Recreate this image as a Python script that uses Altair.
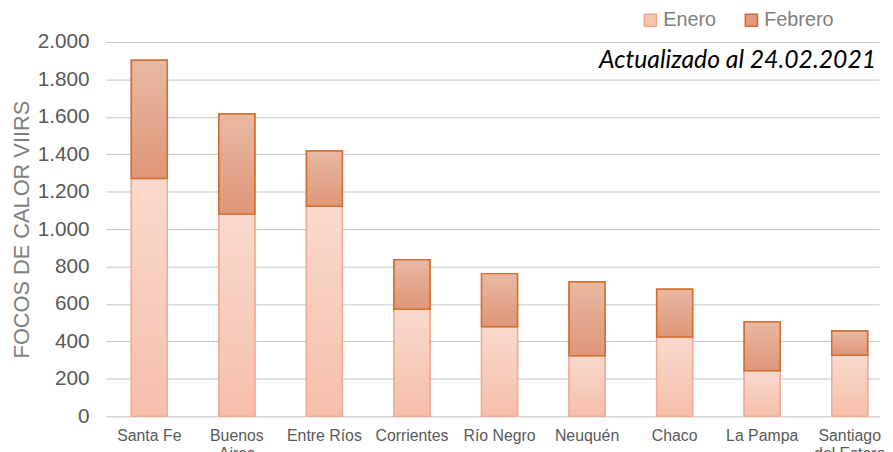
import altair as alt
import pandas as pd

regiones = ["Santa Fe", "Buenos Aires", "Entre Ríos", "Corrientes", "Río Negro",
            "Neuquén", "Chaco", "La Pampa", "Santiago del Estero"]
enero = [1270, 1080, 1122, 571, 478, 323, 423, 243, 326]
febrero = [632, 535, 296, 265, 284, 394, 256, 262, 129]
series = ["Enero", "Febrero"]
y_ticks = [0, 200, 400, 600, 800, 1000, 1200, 1400, 1600, 1800, 2000]
nota = "Actualizado al 24.02.2021"

rows = []
for r, e, f in zip(regiones, enero, febrero):
    rows.append({"region": r, "serie": "Enero", "orden": 0, "valor": e})
    rows.append({"region": r, "serie": "Febrero", "orden": 1, "valor": f})
df = pd.DataFrame(rows)

grad_ene = {"gradient": "linear", "x1": 0, "y1": 0, "x2": 0, "y2": 1,
            "stops": [{"offset": 0, "color": "#f9dacd"}, {"offset": 1, "color": "#f5bfab"}]}
grad_feb = {"gradient": "linear", "x1": 0, "y1": 0, "x2": 0, "y2": 1,
            "stops": [{"offset": 0, "color": "#e8b9a4"}, {"offset": 1, "color": "#df9678"}]}

W, H = 781, 378

x_enc = alt.X("region:N", sort=regiones, title=None,
              scale=alt.Scale(paddingInner=0.59, paddingOuter=0.21, align=0.69),
              axis=alt.Axis(labelAngle=0, labelFont="Liberation Sans", labelFontSize=16,
                            labelColor="#595959", labelPadding=12, ticks=False,
                            domainColor="#d9d9d9", domainWidth=1.5,
                            labelExpr="datum.label == 'Buenos Aires' ? ['Buenos', 'Aires'] : datum.label == 'Santiago del Estero' ? ['Santiago', 'del Estero'] : datum.label"))
y_enc = alt.Y("valor:Q", stack="zero", title="FOCOS DE CALOR VIIRS",
              scale=alt.Scale(domain=[0, 2000], nice=False),
              axis=alt.Axis(values=y_ticks, grid=True, gridColor="#c4c4c4", gridWidth=1,
                            domain=False, ticks=False, labelFont="Liberation Sans",
                            labelFontSize=21, labelColor="#595959", labelPadding=17,
                            titleFont="Liberation Sans", titleFontSize=22,
                            titleFontWeight="normal", titleColor="#7f7f7f", titlePadding=4,
                            labelExpr="replace(format(datum.value, ','), ',', '.')"))

base = alt.Chart(df)

legend_layer = base.mark_bar(strokeWidth=1.5).encode(
    x=x_enc, y=y_enc,
    order=alt.Order("orden:Q"),
    fill=alt.Color("serie:N", scale=alt.Scale(domain=series, range=["#f6c4b2", "#e29b7c"]),
                   legend=alt.Legend(title=None, orient="none", direction="horizontal",
                                     legendX=540, legendY=-32, symbolType="square",
                                     symbolSize=150, symbolStrokeWidth=1.5,
                                     labelFont="Liberation Sans", labelFontSize=20,
                                     labelColor="#7f7f7f", columnPadding=25,
                                     labelOffset=3)),
    stroke=alt.Stroke("serie:N", scale=alt.Scale(domain=series, range=["#efa98c", "#d06a2a"]),
                      legend=None),
)

grad_layer = base.mark_bar(strokeWidth=1.5).encode(
    x=x_enc, y=y_enc,
    detail="serie:N",
    order=alt.Order("orden:Q"),
    fill=alt.condition("datum.serie == 'Enero'", alt.value(grad_ene), alt.value(grad_feb)),
    stroke=alt.condition("datum.serie == 'Enero'", alt.value("#f0ab92"), alt.value("#d26e2e")),
)

nota_layer = alt.Chart(pd.DataFrame({"t": [nota]})).mark_text(
    font="Lato", fontStyle="italic", fontSize=25, color="#000000", align="right",
    baseline="middle").encode(
    text="t:N", x=alt.value(778), y=alt.value(18))

chart = alt.layer(legend_layer, grad_layer, nota_layer).properties(
    width=W, height=H, padding={"left": 2, "top": 0, "right": 0, "bottom": 5}
).configure_view(stroke=None)

chart.save("out.html", embed_options={"renderer": "svg", "actions": False})
